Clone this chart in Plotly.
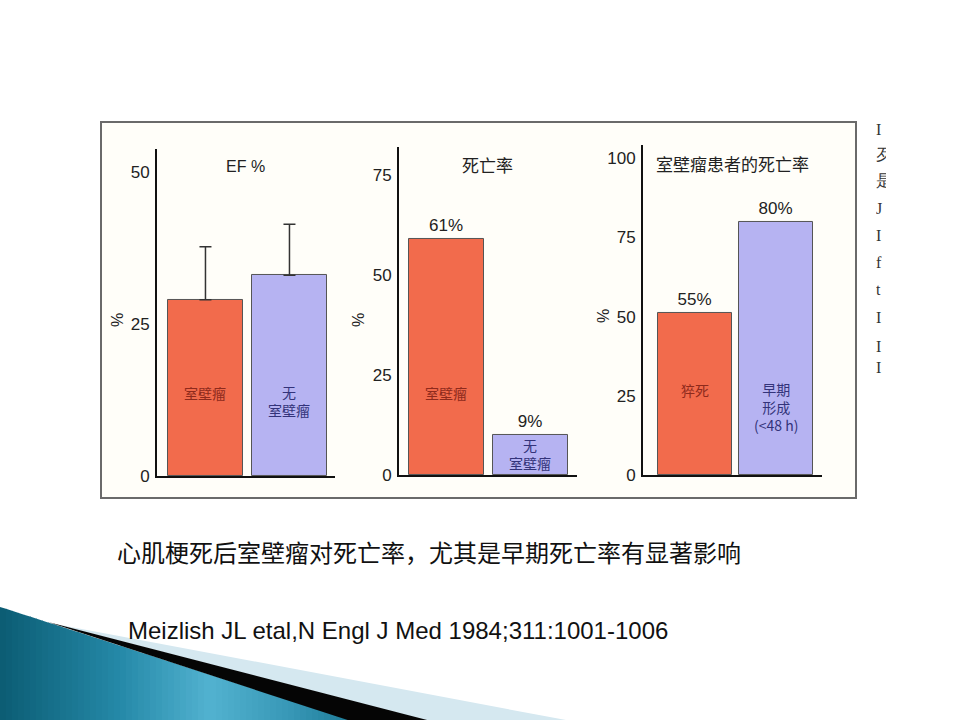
import plotly.graph_objects as go

# ---------------- data ----------------
ef_groups = ["室壁瘤", "无<br>室壁瘤"]
ef_values = [29, 33]
ef_err = [8.7, 8.4]

mort_groups = ["室壁瘤", "无<br>室壁瘤"]
mort_values = [59, 10]
mort_labels = ["61%", "9%"]

aneu_groups = ["猝死", "早期<br>形成<br>(&lt;48 h)"]
aneu_values = [51, 80]
aneu_labels = ["55%", "80%"]

ticks1 = [0, 25, 50]
ticks2 = [0, 25, 50, 75]
ticks3 = [0, 25, 50, 75, 100]

panel_titles = ["EF %", "死亡率", "室壁瘤患者的死亡率"]
slide_title = "心肌梗死后室壁瘤对死亡率，尤其是早期死亡率有显著影响"
citation = "Meizlish JL etal,N Engl J Med 1984;311:1001-1006"
side_glyphs = ["I", "歹", "是", "J", "I", "f", "t", "I", "I", "I"]

# ---------------- style ----------------
W, H = 960, 730
K = 1.0137  # vertical correction for the photographed page
RED = "#F26B4C"
BLUE = "#B6B3F2"
RED_TXT = "#8E2A1C"
BLUE_TXT = "#33337A"
SANS = "Liberation Sans, Arial, sans-serif"
CJK = "Noto Sans CJK SC, sans-serif"


def px(x):
    return x / W


def py(y):
    return 1 - (y * K) / H


fig = go.Figure()

bar_common = dict(marker_line_color="#555555", marker_line_width=1,
                  textposition="outside", cliponaxis=False,
                  constraintext="none",
                  textfont=dict(family=SANS, size=17, color="#222222"),
                  hoverinfo="skip", showlegend=False)

# panel 1
fig.add_trace(go.Bar(x=[0, 1], y=ef_values, width=0.893,
                     marker_color=[RED, BLUE],
                     error_y=dict(type="data", symmetric=False, array=ef_err,
                                  arrayminus=[0, 0], color="#333333",
                                  thickness=1.5, width=6),
                     xaxis="x", yaxis="y", **bar_common))
# panel 2
fig.add_trace(go.Bar(x=[0, 1], y=mort_values, width=0.893,
                     marker_color=[RED, BLUE], text=mort_labels,
                     xaxis="x2", yaxis="y2", **bar_common))
# panel 3
fig.add_trace(go.Bar(x=[0, 1], y=aneu_values, width=0.914,
                     marker_color=[RED, BLUE], text=aneu_labels,
                     xaxis="x3", yaxis="y3", **bar_common))

panels = [
    dict(xd=(157, 335), yd=(476, 149), ymax=53.8, xr=[-0.577, 1.542], ticks=ticks1),
    dict(xd=(399, 577), yd=(475, 147), ymax=82.0, xr=[-0.565, 1.554], ticks=ticks2),
    dict(xd=(643, 822), yd=(475, 145), ymax=104.2, xr=[-0.641, 1.569], ticks=ticks3),
]

layout_axes = {}
for i, p in enumerate(panels):
    sfx = "" if i == 0 else str(i + 1)
    layout_axes["xaxis" + sfx] = dict(
        domain=[px(p["xd"][0]), px(p["xd"][1])], range=p["xr"],
        showline=True, linecolor="#111111", linewidth=2,
        showgrid=False, zeroline=False, showticklabels=False, ticks="",
        anchor="y" + sfx, fixedrange=True)
    layout_axes["yaxis" + sfx] = dict(
        domain=[py(p["yd"][0]), py(p["yd"][1])], range=[0, p["ymax"]],
        showline=True, linecolor="#111111", linewidth=2,
        showgrid=False, zeroline=False, tickvals=p["ticks"],
        ticktext=[str(t) for t in p["ticks"]], ticks="",
        ticklabelstandoff=2,
        tickfont=dict(family=SANS, size=17, color="#222222"),
        anchor="x" + sfx, fixedrange=True)

annotations = []

# panel titles
title_pos = [(246, 167), (487, 165), (732, 164)]
for t, (x, y) in zip(panel_titles, title_pos):
    annotations.append(dict(text=t, x=px(x), y=py(y), xref="paper", yref="paper",
                            showarrow=False, xanchor="center", yanchor="middle",
                            font=dict(family=CJK if t != "EF %" else SANS,
                                      size=17 if t != "EF %" else 16,
                                      color="#222222")))

# "%" axis labels
for (x, y) in [(118, 320), (359, 320), (604, 316)]:
    annotations.append(dict(text="%", x=px(x), y=py(y), xref="paper", yref="paper",
                            showarrow=False, textangle=-90,
                            xanchor="center", yanchor="middle",
                            font=dict(family=SANS, size=16, color="#222222")))

# labels inside bars (label y positions in axis units)
inner = [
    ("x", "y", ef_groups, [13.6, 12.3]),
    ("x2", "y2", mort_groups, [20.5, 5.3]),
    ("x3", "y3", aneu_groups, [26.8, 21.5]),
]
for xr, yr, groups, ys in inner:
    for j, (g, yv) in enumerate(zip(groups, ys)):
        annotations.append(dict(text=g, x=j, y=yv, xref=xr, yref=yr,
                                showarrow=False, xanchor="center", yanchor="middle",
                                font=dict(family=CJK, size=14,
                                          color=RED_TXT if j == 0 else BLUE_TXT)))

# slide title and citation
annotations.append(dict(text=slide_title, x=px(115), y=py(552), xref="paper", yref="paper",
                        showarrow=False, xanchor="left", yanchor="middle",
                        font=dict(family=CJK, size=24, color="#111111")))
annotations.append(dict(text=citation, x=px(126), y=py(631), xref="paper", yref="paper",
                        showarrow=False, xanchor="left", yanchor="middle",
                        font=dict(family=SANS, size=24, color="#111111")))

# cut-off text column at right
glyph_y = [130, 155, 181, 209, 236, 263, 290, 318, 347, 368]
for g, y in zip(side_glyphs, glyph_y):
    annotations.append(dict(text=g, x=px(874), y=py(y), xref="paper", yref="paper",
                            showarrow=False, xanchor="left", yanchor="middle",
                            width=10, align="left",
                            font=dict(family="Liberation Serif, serif", size=16,
                                      color="#333333")))

shapes = []
# chart frame
shapes.append(dict(type="rect", xref="paper", yref="paper", layer="below",
                   x0=px(101), x1=px(856), y0=py(498), y1=py(122),
                   fillcolor="#FFFEF9", line=dict(color="#6A6A6A", width=2)))


def path(points):
    return "M " + " L ".join(f"{px(a):.5f},{py(b):.5f}" for a, b in points) + " Z"


def lerp_col(c1, c2, t):
    a = [int(c1[i:i + 2], 16) for i in (1, 3, 5)]
    b = [int(c2[i:i + 2], 16) for i in (1, 3, 5)]
    return "#" + "".join(f"{round(a[k] + (b[k] - a[k]) * t):02x}" for k in range(3))


# decorative swoosh bottom-left: teal triangle with smooth colour bands
stops = [(0, "#0B5C73"), (120, "#2589A8"), (210, "#52B2D0"), (290, "#3797B6"), (352, "#1E7C98")]


def teal_at(x):
    for (xa, ca), (xb, cb) in zip(stops[:-1], stops[1:]):
        if xa <= x <= xb:
            return lerp_col(ca, cb, (x - xa) / (xb - xa))
    return stops[-1][1]


def top_y(x):
    return 607 + (720 - 607) * x / 350


BOT = 721
step = 6
x0 = 0
while x0 < 351:
    x1 = min(x0 + step + 0.8, 352)
    pts = [(x0, top_y(x0)), (x1, top_y(x1)), (x1, BOT), (x0, BOT)]
    shapes.append(dict(type="path", xref="paper", yref="paper", layer="above",
                       path=path(pts), fillcolor=teal_at(x0 + step / 2),
                       line=dict(width=0)))
    x0 += step
# light blue stripe
shapes.append(dict(type="path", xref="paper", yref="paper", layer="above",
                   path=path([(55, 624), (570, BOT), (428, BOT)]),
                   fillcolor="#D5E8F0", line=dict(width=0)))
# black stripe
shapes.append(dict(type="path", xref="paper", yref="paper", layer="above",
                   path=path([(48, 622), (430, BOT), (350, BOT)]),
                   fillcolor="#050505", line=dict(width=0)))

fig.update_layout(
    width=W, height=H, margin=dict(l=0, r=0, t=0, b=0),
    paper_bgcolor="white", plot_bgcolor="rgba(0,0,0,0)",
    showlegend=False, bargap=0,
    annotations=annotations, shapes=shapes,
    **layout_axes,
)

fig.write_html(
    "out.html",
    config={"displayModeBar": False, "responsive": False},
    post_script="document.body.style.margin='0';document.body.style.padding='0';",
)
